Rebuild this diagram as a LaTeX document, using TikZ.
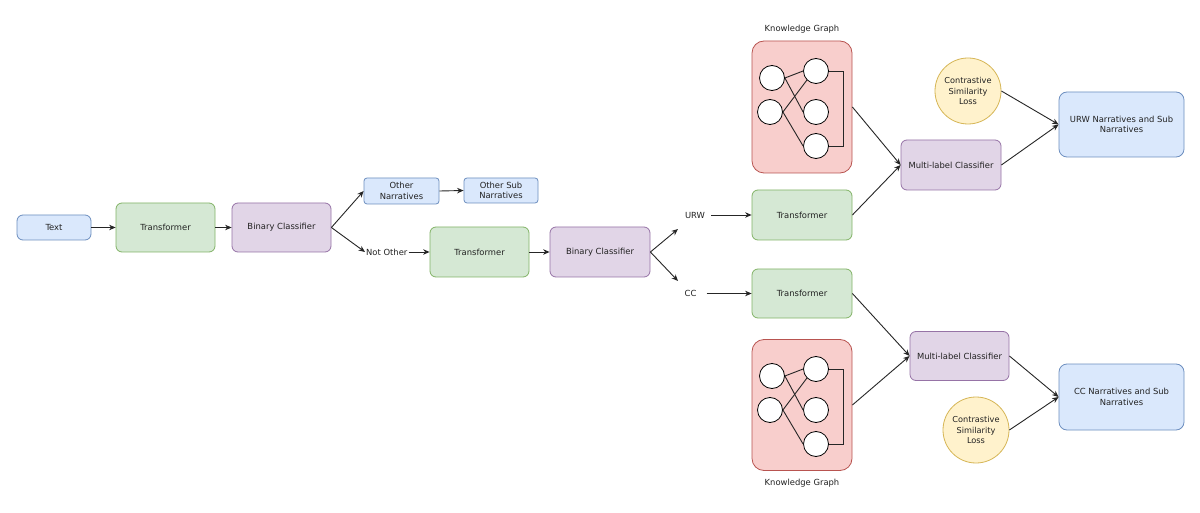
\documentclass[tikz,border=0pt]{standalone}
\usepackage{fontspec}
\setmainfont{DejaVu Sans}
\usetikzlibrary{arrows.meta,positioning}
\definecolor{bfill}{HTML}{DAE8FC}\definecolor{bline}{HTML}{6C8EBF}
\definecolor{gfill}{HTML}{D5E8D4}\definecolor{gline}{HTML}{82B366}
\definecolor{pfill}{HTML}{E1D5E7}\definecolor{pline}{HTML}{9673A6}
\definecolor{rfill}{HTML}{F8CECC}\definecolor{rline}{HTML}{B85450}
\definecolor{yfill}{HTML}{FFF2CC}\definecolor{yline}{HTML}{D6B656}
\definecolor{txt}{HTML}{222222}
\tikzset{
  base/.style={rounded corners=6pt, line width=0.8pt, align=center, inner sep=1pt,
    font=\fontsize{8.4}{10.5}\selectfont, text=txt},
  bluebox/.style={base, draw=bline, fill=bfill},
  greenbox/.style={base, draw=gline, fill=gfill},
  purplebox/.style={base, draw=pline, fill=pfill},
  redbox/.style={base, draw=rline, fill=rfill},
  losscirc/.style={circle, draw=yline, fill=yfill, line width=0.8pt, minimum size=66pt,
    inner sep=0pt, align=center, font=\fontsize{8.2}{10.5}\selectfont, text=txt},
  plain/.style={inner sep=1pt, font=\fontsize{8.4}{10.5}\selectfont, text=txt},
  kgc/.style={circle, draw=black, fill=white, line width=0.8pt, minimum size=25pt, inner sep=0pt},
  arr/.style={-{Stealth[length=6.5pt,width=5.5pt]}, line width=0.9pt, draw=black!85},
  kgline/.style={line width=0.9pt, draw=black!85},
}
\begin{document}
\begin{tikzpicture}[x=1pt,y=-1pt]
\useasboundingbox (0,0) rectangle (1200,513);
\fill[white] (0,0) rectangle (1200,513);

% left chain
\node[bluebox, minimum width=74pt, minimum height=25pt] (text) at (54,227.5) {Text};
\node[greenbox, minimum width=99pt, minimum height=49pt] (t1) at (165.5,227.5) {Transformer};
\node[purplebox, minimum width=99pt, minimum height=49pt] (bc1) at (281.5,227.5) {Binary Classifier};
\node[bluebox, minimum width=75pt, minimum height=26pt, rounded corners=3pt] (on) at (401.5,191) {Other\\Narratives};
\node[bluebox, minimum width=74pt, minimum height=25pt, rounded corners=3pt] (osn) at (501,190.5) {Other Sub\\Narratives};
\node[plain, anchor=west] (notother) at (365,252) {Not Other};
\node[greenbox, minimum width=99pt, minimum height=50pt] (t2) at (479.5,252) {Transformer};
\node[purplebox, minimum width=100pt, minimum height=50pt] (bc2) at (600,252) {Binary Classifier};

\draw[arr] (text.east) -- (t1.west);
\draw[arr] (t1.east) -- (bc1.west);
\draw[arr] (bc1.east) -- (on.west);
\draw[arr] (bc1.east) -- (notother.west);
\draw[arr] (on.east) -- (osn.west);
\draw[arr] (notother.east) -- (t2.west);
\draw[arr] (t2.east) -- (bc2.west);

% split
\node[plain] (urw) at (695,215) {URW};
\node[plain] (cc) at (690.5,293.5) {CC};
\coordinate (urwin) at (678,229);
\coordinate (ccin) at (678,281);
\draw[arr] (bc2.east) -- (urwin);
\draw[arr] (bc2.east) -- (ccin);

\node[greenbox, minimum width=100pt, minimum height=50pt] (tu) at (802,215) {Transformer};
\node[greenbox, minimum width=100pt, minimum height=49pt] (tc) at (802,293.5) {Transformer};
\draw[arr] ([xshift=5pt]urw.east) -- (tu.west);
\draw[arr] ([xshift=9pt]cc.east) -- (tc.west);

% knowledge graphs
\node[redbox, minimum width=100pt, minimum height=132pt, rounded corners=12pt] (kg1) at (802,107) {};
\node[plain] (kg1lab) at (802,29) {Knowledge Graph};
\node[redbox, minimum width=100pt, minimum height=131pt, rounded corners=12pt] (kg2) at (802,405) {};
\node[plain] (kg2lab) at (802,483) {Knowledge Graph};

\foreach \k/\cy in {a/107,b/405}{
  \node[kgc] (\k c1) at (772,\cy-29) {};
  \node[kgc] (\k c2) at (770,\cy+5) {};
  \node[kgc] (\k c3) at (816,\cy-36) {};
  \node[kgc] (\k c4) at (816,\cy+5) {};
  \node[kgc] (\k c5) at (816,\cy+39) {};
  \draw[kgline] (\k c1.east) -- (\k c3.west);
  \draw[kgline] (\k c1.east) -- (\k c4.west);
  \draw[kgline] (\k c2.east) -- (\k c3.south west);
  \draw[kgline] (\k c2.east) -- (\k c5.west);
  \draw[kgline] (\k c3.east) -- ++(15,0) |- (\k c5.east);
}

% multi-label classifiers
\node[purplebox, minimum width=100pt, minimum height=50pt] (mlc1) at (951,165) {Multi-label Classifier};
\node[purplebox, minimum width=99pt, minimum height=49pt] (mlc2) at (959.5,356) {Multi-label Classifier};
\draw[arr] (kg1.east) -- (mlc1.west);
\draw[arr] (tu.east) -- (mlc1.west);
\draw[arr] (tc.east) -- (mlc2.west);
\draw[arr] (kg2.east) -- (mlc2.west);

% losses and outputs
\node[losscirc] (csl1) at (968,91) {Contrastive\\Similarity\\Loss};
\node[losscirc] (csl2) at (976,430) {Contrastive\\Similarity\\Loss};
\node[bluebox, minimum width=125pt, minimum height=65pt, rounded corners=8pt] (urwn) at (1121.5,124.5) {URW Narratives and Sub\\Narratives};
\node[bluebox, minimum width=125pt, minimum height=66pt, rounded corners=8pt] (ccn) at (1121.5,397) {CC Narratives and Sub\\Narratives};
\draw[arr] (csl1.east) -- (urwn.west);
\draw[arr] (mlc1.east) -- (urwn.west);
\draw[arr] (mlc2.east) -- (ccn.west);
\draw[arr] (csl2.east) -- (ccn.west);
\end{tikzpicture}
\end{document}
